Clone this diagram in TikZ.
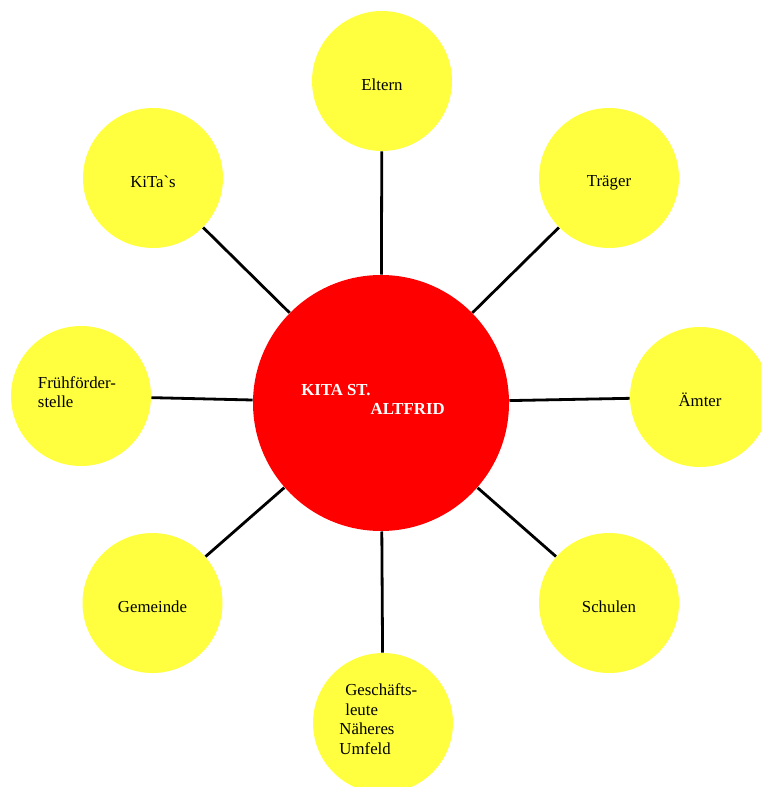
\documentclass[tikz,border=0pt]{standalone}
\usepackage{fontspec}
\setmainfont{Liberation Serif}

\tikzset{every picture/.style={line width=0.75pt}}
\tikzset{
  satellite/.style={circle, fill={rgb, 255:red, 255; green, 255; blue, 64 }, inner sep=0pt, minimum size=105pt, font=\fontsize{12.6}{14.8}\selectfont, text height=15pt},
  hub/.style={circle, fill={rgb, 255:red, 255; green, 0; blue, 0 }, inner sep=0pt, minimum size=192pt, text=white, font=\bfseries\fontsize{12.6}{15}\selectfont},
  spoke/.style={line width=2.1pt}
}

\begin{document}
\begin{tikzpicture}[x=0.75pt,y=0.75pt,yscale=-1,xscale=1]
\useasboundingbox (0,0) rectangle (760,787);

%Shape: Circle (hub)
\node [hub, align=left] (kita) at (381,403) {KITA ST.\\[-1pt]\phantom{KITA ST.}ALTFRID\hspace*{12pt}\rule[-5pt]{0pt}{5pt}};

%Shape: Circle (satellites)
\node [satellite] (eltern) at (382,81) {Eltern};
\node [satellite] (traeger) at (609,178) {Tr\"ager};
\node [satellite] (aemter) at (700,397) {\"Amter};
\node [satellite] (schulen) at (609,603) {Schulen};
\node [satellite, align=left, text height=] (geschaefte) at (383,723) {\hspace*{0.35em}Gesch\"afts-\hspace*{7pt}\\\hspace*{0.35em}leute\\N\"aheres\\Umfeld\rule[-6pt]{0pt}{6pt}};
\node [satellite] (gemeinde) at (152.5,603) {Gemeinde};
\node [satellite, align=left, text height=] (fruehfoerder) at (81,396) {Fr\"uhf\"order-\hspace*{6pt}\\stelle\rule[-6pt]{0pt}{6pt}};
\node [satellite] (kitas) at (153,178) {KiTa\textasciigrave s};

%Straight Lines
\foreach \s in {eltern,traeger,aemter,schulen,geschaefte,gemeinde,fruehfoerder,kitas}
  \draw [spoke] (kita) -- (\s);

\end{tikzpicture}
\end{document}
